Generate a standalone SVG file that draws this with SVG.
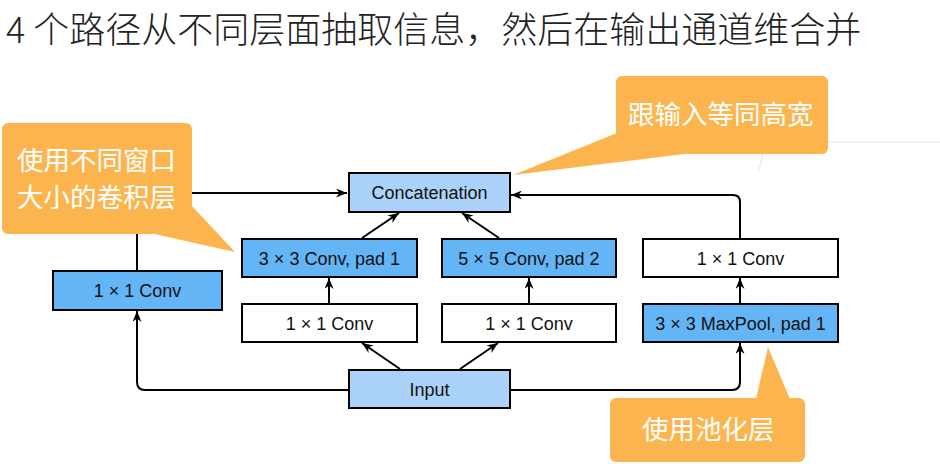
<svg xmlns="http://www.w3.org/2000/svg" width="940" height="464" viewBox="0 0 940 464">
<style>
.box{stroke:#000;stroke-width:2}
.lb{fill:#abd2f8}
.mb{fill:#64b5f6}
.wb{fill:#fff}
.t{font-family:"Liberation Sans",Arial,sans-serif;font-size:18px;fill:#111;text-anchor:middle}
.c{fill:none;stroke:#000;stroke-width:2}
.callout{fill:#fcb54e}
.ct{font-family:"Noto Sans CJK SC","Noto Sans",sans-serif;font-size:26.5px;fill:#fff}
</style>
<defs>
<marker id="ah" viewBox="0 0 11 9" refX="11" refY="4.5" markerWidth="11" markerHeight="9" orient="auto" markerUnits="userSpaceOnUse">
<path d="M0,0 L11,4.5 L0,9 L3.5,4.5 z" fill="#000"/>
</marker>
</defs>
<rect width="940" height="464" fill="#fff"/>
<text x="6" y="43" font-family="'Noto Sans CJK SC','Noto Sans',sans-serif" font-size="36" font-weight="300" fill="#222">4 个路径从不同层面抽取信息，然后在输出通道维合并</text>
<path d="M765,142 H940 M765,142 L759,171" fill="none" stroke="#e6e6e6" stroke-width="1"/>
<g id="connectors">
<path class="c" d="M137,271 V199 Q137,193 143,193 H347" marker-end="url(#ah)"/>
<path class="c" d="M740,238 V202 Q740,195 733,195 H511" marker-end="url(#ah)"/>
<path class="c" d="M362,238 L399,213" marker-end="url(#ah)"/>
<path class="c" d="M499,238 L462,213" marker-end="url(#ah)"/>
<path class="c" d="M329,304 V278" marker-end="url(#ah)"/>
<path class="c" d="M529,304 V278" marker-end="url(#ah)"/>
<path class="c" d="M740,304 V278" marker-end="url(#ah)"/>
<path class="c" d="M400,369 L362,343" marker-end="url(#ah)"/>
<path class="c" d="M460,369 L498,343" marker-end="url(#ah)"/>
<path class="c" d="M348,390 H145 Q137,390 137,382 V311" marker-end="url(#ah)"/>
<path class="c" d="M510,390 H732 Q740,390 740,382 V343" marker-end="url(#ah)"/>
</g>
<g id="concat"><rect class="box lb" x="349" y="173" width="161" height="39"/><text class="t" x="429.5" y="198.5">Concatenation</text></g>
<g id="conv3"><rect class="box mb" x="242" y="239" width="175" height="38"/><text class="t" x="329.5" y="264.5">3 × 3 Conv, pad 1</text></g>
<g id="conv5"><rect class="box mb" x="442" y="239" width="174" height="38"/><text class="t" x="529" y="264.5">5 × 5 Conv, pad 2</text></g>
<g id="conv1r"><rect class="box wb" x="643" y="239" width="195" height="38"/><text class="t" x="740.5" y="264.5">1 × 1 Conv</text></g>
<g id="conv1l"><rect class="box mb" x="53" y="271" width="169" height="39"/><text class="t" x="137.5" y="297">1 × 1 Conv</text></g>
<g id="conv1a"><rect class="box wb" x="242" y="304" width="175" height="38"/><text class="t" x="329.5" y="329.5">1 × 1 Conv</text></g>
<g id="conv1b"><rect class="box wb" x="442" y="304" width="174" height="38"/><text class="t" x="529" y="329.5">1 × 1 Conv</text></g>
<g id="maxpool"><rect class="box mb" x="643" y="304" width="195" height="38"/><text class="t" x="740.5" y="329.5">3 × 3 MaxPool, pad 1</text></g>
<g id="input"><rect class="box lb" x="349" y="370" width="161" height="38"/><text class="t" x="429.5" y="395.5">Input</text></g>
<g id="callout-left">
<rect class="callout" x="2" y="123" width="190" height="111" rx="6"/>
<polygon class="callout" points="150,233 191,205 235,252"/>
<text class="ct" x="17" y="170">使用不同窗口</text>
<text class="ct" x="17" y="207">大小的卷积层</text>
</g>
<g id="callout-top">
<rect class="callout" x="616" y="76" width="212" height="78" rx="6"/>
<polygon class="callout" points="617,133 513,175 693,153"/>
<text class="ct" x="628" y="124">跟输入等同高宽</text>
</g>
<g id="callout-bottom">
<rect class="callout" x="610" y="398" width="195" height="64" rx="6"/>
<polygon class="callout" points="756,399 768,347 790,399"/>
<text class="ct" x="642" y="439">使用池化层</text>
</g>
</svg>
